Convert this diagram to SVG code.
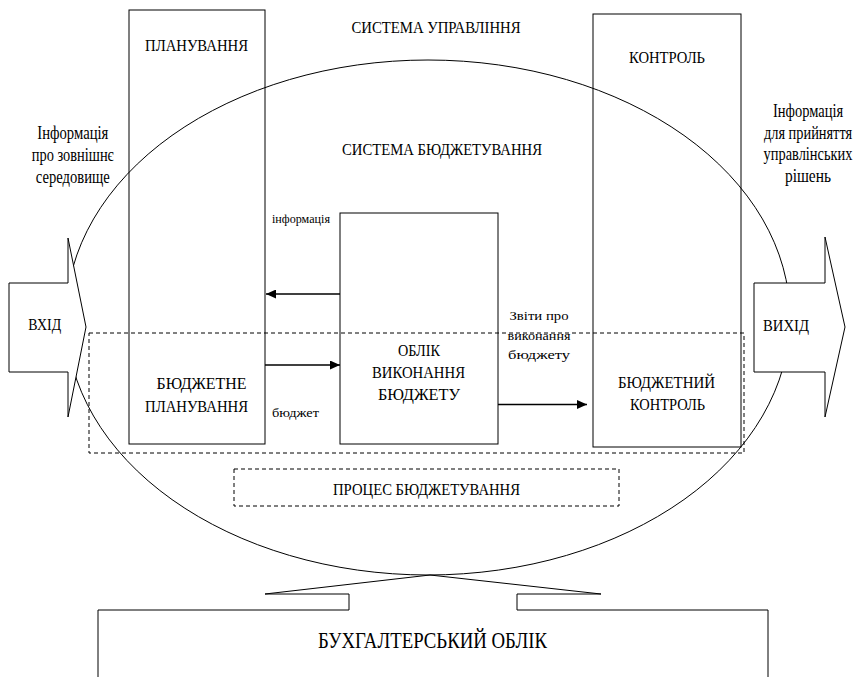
<svg xmlns="http://www.w3.org/2000/svg" width="858" height="677" viewBox="0 0 858 677">
<style>
text{font-family:"Times New Roman","Liberation Serif",Tinos,"DejaVu Serif","Noto Serif",serif;fill:#000;text-anchor:middle;font-weight:normal}
.h{font-size:16px}
.i{font-size:18px}
.s{font-size:13px}
.b{font-size:23px}
.box{fill:none;stroke:#000;stroke-width:1}
.dash{fill:none;stroke:#000;stroke-width:1;stroke-dasharray:4 3}
.arr{fill:#fff;stroke:#000;stroke-width:1}
.con{stroke:#000;stroke-width:1.6;fill:none}
</style>
<defs>
<marker id="ah" markerUnits="userSpaceOnUse" markerWidth="10" markerHeight="9" refX="10" refY="4.5" orient="auto">
<path d="M0,0 L10,4.5 L0,9 z" fill="#000"/>
</marker>
</defs>
<rect width="858" height="677" fill="#fff"/>

<g id="upravlinnya">
<text class="h" x="436" y="33" textLength="169" lengthAdjust="spacingAndGlyphs">СИСТЕМА УПРАВЛІННЯ</text>
</g>

<g id="budzhetuvannya-system">
<ellipse class="box" cx="428" cy="317.5" rx="362" ry="257.5"/>
<text class="h" x="442" y="155" textLength="200" lengthAdjust="spacingAndGlyphs">СИСТЕМА БЮДЖЕТУВАННЯ</text>
</g>

<g id="planuvannya">
<rect class="box" x="129" y="10" width="136" height="434"/>
<text class="h" x="196.5" y="51" textLength="103" lengthAdjust="spacingAndGlyphs">ПЛАНУВАННЯ</text>
<text class="h" x="201.5" y="389" textLength="90" lengthAdjust="spacingAndGlyphs">БЮДЖЕТНЕ</text>
<text class="h" x="196.5" y="411.5" textLength="103" lengthAdjust="spacingAndGlyphs">ПЛАНУВАННЯ</text>
</g>

<g id="kontrol">
<rect class="box" x="593" y="14" width="148" height="433"/>
<text class="h" x="667" y="63" textLength="76" lengthAdjust="spacingAndGlyphs">КОНТРОЛЬ</text>
<text class="h" x="666.5" y="387.5" textLength="97" lengthAdjust="spacingAndGlyphs">БЮДЖЕТНИЙ</text>
<text class="h" x="667.5" y="410" textLength="75" lengthAdjust="spacingAndGlyphs">КОНТРОЛЬ</text>
</g>

<g id="oblik">
<rect class="box" x="340" y="213" width="158" height="231"/>
<text class="h" x="419" y="356" textLength="42" lengthAdjust="spacingAndGlyphs">ОБЛІК</text>
<text class="h" x="418.5" y="378" textLength="93" lengthAdjust="spacingAndGlyphs">ВИКОНАННЯ</text>
<text class="h" x="419" y="400" textLength="82" lengthAdjust="spacingAndGlyphs">БЮДЖЕТУ</text>
</g>

<g id="protses">
<rect class="dash" x="89" y="333" width="655" height="120"/>
<rect class="dash" x="234" y="469" width="385" height="37"/>
<text class="h" x="426.5" y="495" textLength="187" lengthAdjust="spacingAndGlyphs">ПРОЦЕС БЮДЖЕТУВАННЯ</text>
</g>

<g id="vkhid">
<polygon class="arr" points="9,283 68,283 68,238 86,327 68,417 68,372 9,372"/>
<text class="h" x="44.7" y="330" textLength="33" lengthAdjust="spacingAndGlyphs">ВХІД</text>
</g>

<g id="vykhid">
<polygon class="arr" points="754,283 825,283 825,237 845,327 825,417 825,372 754,372"/>
<text class="h" x="786" y="331" textLength="46" lengthAdjust="spacingAndGlyphs">ВИХІД</text>
</g>

<g id="info-in">
<text class="i" x="72.8" y="139" textLength="71" lengthAdjust="spacingAndGlyphs">Інформація</text>
<text class="i" x="72.8" y="161" textLength="82" lengthAdjust="spacingAndGlyphs">про зовнішнє</text>
<text class="i" x="72.8" y="183" textLength="74" lengthAdjust="spacingAndGlyphs">середовище</text>
</g>

<g id="info-out">
<text class="i" transform="translate(808,117) scale(0.78,1)" textLength="90" lengthAdjust="spacingAndGlyphs">Інформація</text>
<text class="i" transform="translate(808,138.5) scale(0.78,1)" textLength="113" lengthAdjust="spacingAndGlyphs">для прийняття</text>
<text class="i" transform="translate(808,160) scale(0.78,1)" textLength="114" lengthAdjust="spacingAndGlyphs">управлінських</text>
<text class="i" transform="translate(808,181.5) scale(0.78,1)" textLength="59" lengthAdjust="spacingAndGlyphs">рішень</text>
</g>

<g id="bukhoblik">
<path class="box" d="M430,575 L265,594 L349,594 L349,610 L98,610 L98,677"/>
<path class="box" d="M430,575 L601,594 L517,594 L517,610 L768,610 L768,677"/>
<text class="b" x="432.5" y="648" textLength="229" lengthAdjust="spacingAndGlyphs">БУХГАЛТЕРСЬКИЙ ОБЛІК</text>
</g>

<g id="connectors">
<line class="con" x1="340" y1="294" x2="266" y2="294" marker-end="url(#ah)"/>
<line class="con" x1="265" y1="365" x2="340" y2="365" marker-end="url(#ah)"/>
<line class="con" x1="498" y1="404.5" x2="587" y2="404.5" marker-end="url(#ah)"/>
<text class="s" x="301" y="222.5" textLength="58" lengthAdjust="spacingAndGlyphs">інформація</text>
<text class="s" x="295.5" y="417" textLength="47" lengthAdjust="spacingAndGlyphs">бюджет</text>
<text class="s" x="539" y="320" textLength="59" lengthAdjust="spacingAndGlyphs">Звіти про</text>
<text class="s" x="539" y="340" textLength="63" lengthAdjust="spacingAndGlyphs">виконання</text>
<text class="s" x="539" y="359" textLength="62" lengthAdjust="spacingAndGlyphs">бюджету</text>
</g>
</svg>
